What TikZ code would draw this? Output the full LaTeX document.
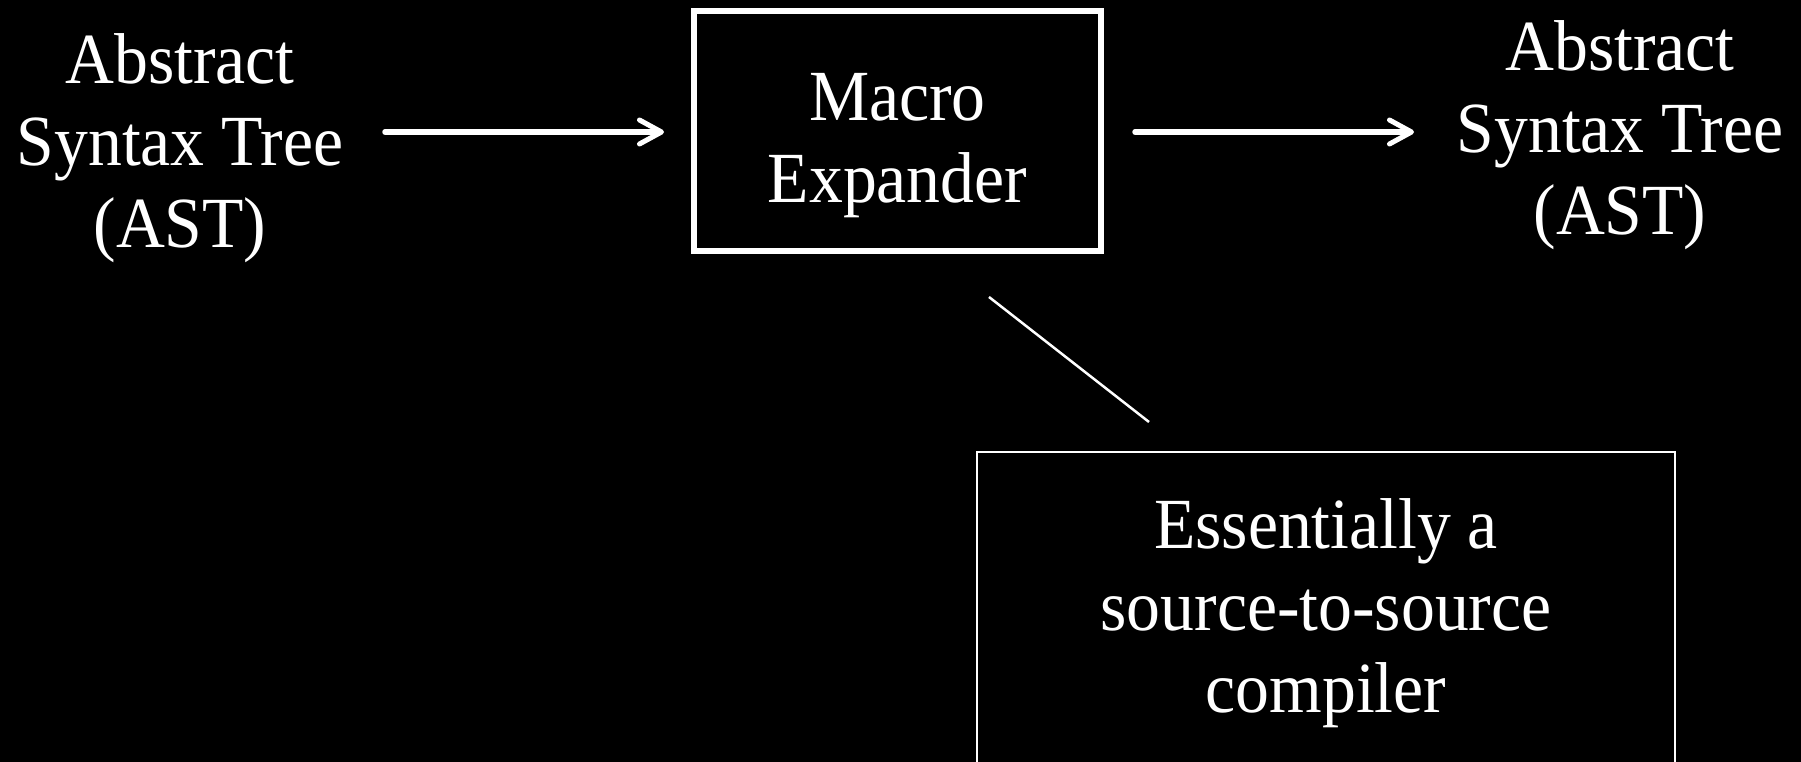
\documentclass[tikz,border=0pt]{standalone}
\usepackage{fontspec}
\setmainfont{Liberation Serif}[FakeStretch=0.94]
\usetikzlibrary{arrows.meta}
\tikzset{
  lbl/.style={text=white, align=center, inner sep=0pt, font=\fontsize{72}{82}\selectfont},
  bigbox/.style={draw=white, line width=5.5pt, inner sep=0pt},
  thinbox/.style={draw=white, line width=2.7pt, inner sep=0pt},
  flow/.style={draw=white, line width=5.5pt, line cap=round,
    -{Straight Barb[length=22pt, width=24pt, line width=5pt, round]}},
  thinline/.style={draw=white, line width=2.5pt}
}
\begin{document}
\begin{tikzpicture}[x=1pt, y=-1pt]
\fill[black] (0,0) rectangle (1801,762);
\useasboundingbox (0,0) rectangle (1801,762);
\clip (0,0) rectangle (1801,762);
% left AST
\node[lbl] (astin) at (180,148.5) {Abstract\\Syntax Tree\\(AST)};
% macro expander box
\node[bigbox, minimum width=407pt, minimum height=240pt] (macro) at (897.5,131) {};
\node[lbl] (macrotext) at (897.5,146) {Macro\\Expander};
% right AST
\node[lbl] (astout) at (1620,135) {Abstract\\Syntax Tree\\(AST)};
% bottom box
\node[thinbox, minimum width=698pt, minimum height=400pt, anchor=north] (comp) at (1326,450.5) {};
\node[lbl] (comptext) at (1326,613) {Essentially a\\source-to-source\\compiler};
% connectors
\coordinate (a1s) at (385,132);
\coordinate (a1e) at (664,132);
\coordinate (a2s) at (1135,132);
\coordinate (a2e) at (1414,132);
\draw[flow] (a1s) -- (a1e);
\draw[flow] (a2s) -- (a2e);
\coordinate (d1) at (989,297);
\coordinate (d2) at (1149,422);
\draw[thinline] (d1) -- (d2);
\end{tikzpicture}
\end{document}
